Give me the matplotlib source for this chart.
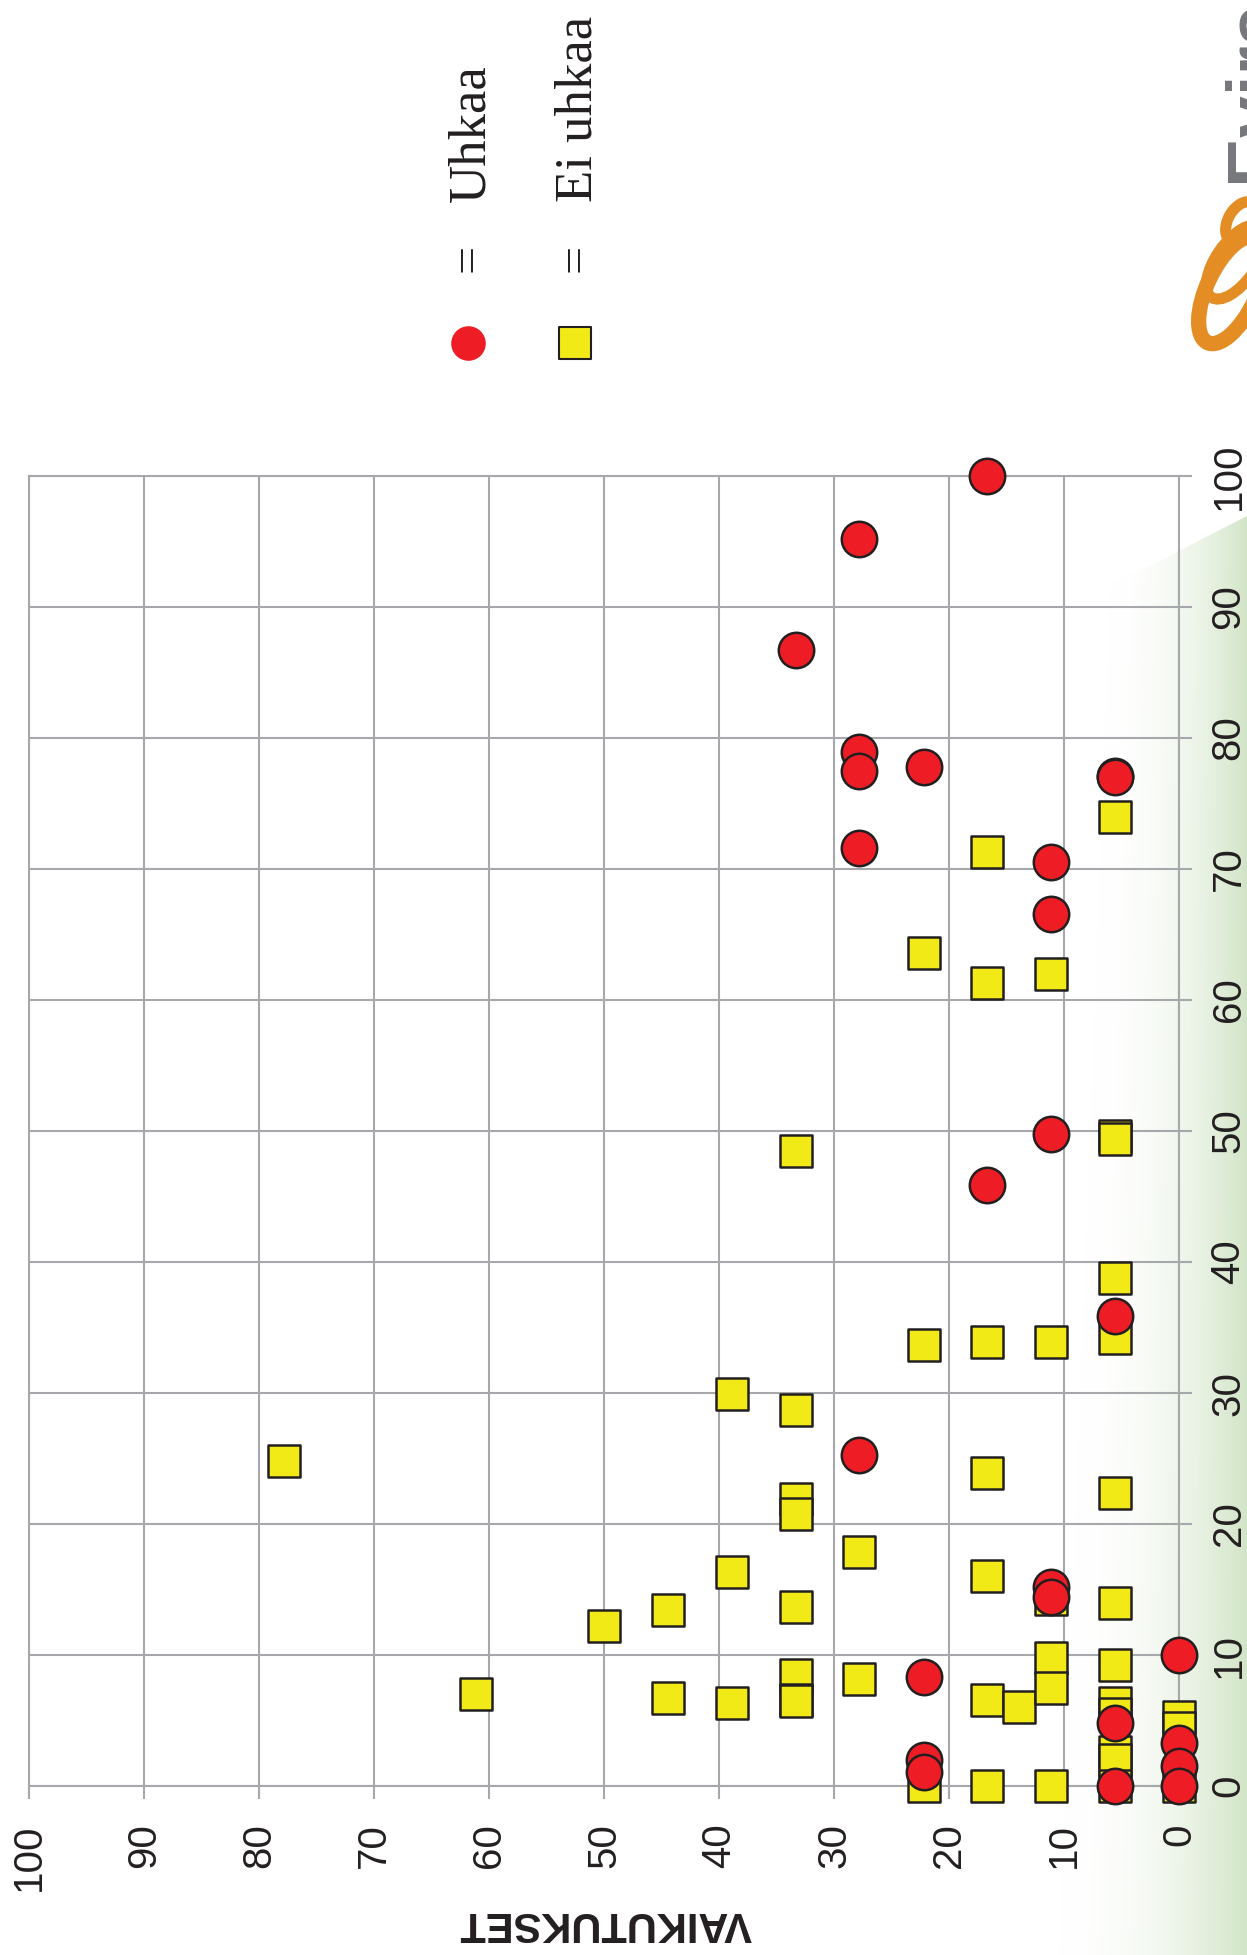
import numpy as np
import matplotlib
matplotlib.use("Agg")
from matplotlib import pyplot as plt
from matplotlib.patches import Polygon, Ellipse

# horizontal axis = VAIKUTUKSET (reversed, 100 on the left), vertical axis 0..100
uhkaa_h = [16.7, 27.8, 33.3, 27.8, 27.8, 22.2, 5.6, 5.6, 27.8, 11.1, 11.1, 11.1, 16.7,
           5.6, 27.8, 11.1, 11.1, 22.2, 0, 5.6, 0, 0, 22.2, 22.2, 5.6, 0]
uhkaa_v = [100, 95.2, 86.7, 78.9, 77.5, 77.8, 77.1, 77.0, 71.6, 70.5, 66.6, 49.8, 45.9,
           35.9, 25.3, 15.2, 14.4, 8.3, 10, 4.8, 3.3, 1.5, 2.0, 1.1, 0, 0]

ei_uhkaa_h = [77.8, 61.1, 50, 44.4, 44.4, 38.9, 38.9, 38.9, 33.3, 33.3, 33.3, 33.3, 33.3,
              33.3, 33.3, 33.3, 27.8, 27.8, 22.2, 22.2, 22.2, 16.7, 16.7, 16.7, 16.7,
              16.7, 16.7, 16.7, 13.9, 11.1, 11.1, 11.1, 11.1, 11.1, 11.1, 5.6, 5.6,
              5.6, 5.6, 5.6, 5.6, 5.6, 5.6, 5.6, 5.6, 5.6, 5.6, 5.6, 0, 0, 0]
ei_uhkaa_v = [24.8, 7.0, 12.2, 13.4, 6.7, 29.9, 16.3, 6.3, 48.5, 28.7, 21.9, 20.8, 13.7,
              8.5, 6.6, 6.5, 17.9, 8.2, 63.6, 33.7, 0, 71.3, 61.3, 33.9, 23.9,
              16.0, 6.6, 0, 6.0, 62.0, 33.9, 14.3, 9.8, 7.5, 0, 74.0, 49.6,
              49.4, 38.8, 34.2, 22.4, 14.0, 9.2, 6.3, 5.5, 2.6, 2.0, 0, 5.3, 4.4, 0]

tick_vals = list(range(0, 101, 10))
tick_labels = [str(t) for t in tick_vals]
x_label = "VAIKUTUKSET"
legend_labels = ["Uhkaa", "Ei uhkaa"]

RED = "#ee1d25"
YELLOW = "#f2ea17"
EDGE = "#231f20"
GRID = "#a6a8ab"

W, H = 1247, 1955
fig = plt.figure(figsize=(W / 100, H / 100), dpi=100)

# background layer in pixel coordinates (gradient, legend, logo)
bg = fig.add_axes([0, 0, 1, 1], zorder=0)
bg.set_xlim(0, W)
bg.set_ylim(H, 0)
bg.axis("off")

# green fade along the right edge, a bit wider towards the bottom
gx, gy = np.meshgrid(np.arange(W), np.arange(H))
x0 = 1100 - 60 * (gy - 500).clip(0) / (H - 500)
alpha = np.clip((gx - x0) / (W - x0), 0, 1) ** 2.3
grad = np.zeros((H, W, 4))
grad[..., 0] = 0.82
grad[..., 1] = 0.895
grad[..., 2] = 0.78
grad[..., 3] = alpha
im = bg.imshow(grad, extent=(0, W, H, 0), aspect="auto", interpolation="bilinear")
clip = Polygon([(1247, 516), (1200, 540), (1150, 566), (1100, 588), (1040, 610),
                (980, 628), (980, 1955), (1247, 1955)], closed=True,
               transform=bg.transData, facecolor="none", edgecolor="none")
bg.add_patch(clip)
im.set_clip_path(clip)

# legend
bg.scatter([468], [343], s=620, marker="o", facecolor=RED, edgecolor=RED, linewidth=0)
bg.scatter([575], [343], s=560, marker="s", facecolor=YELLOW, edgecolor=EDGE, linewidth=1.5)
for xp, lab in zip([469, 576], legend_labels):
    bg.text(xp, 258, "=", rotation=90, fontsize=36, family="Liberation Serif",
            ha="center", va="center", color=EDGE)
    bg.text(xp + 2, 202, lab, rotation=90, fontsize=38, family="Liberation Serif",
            ha="center", va="bottom", color=EDGE)

# logo (partly cut off at the right edge)
bg.text(1221, 182, "Evira", rotation=90, fontsize=54, fontweight="bold",
        family="Liberation Sans", color="#76777a", ha="left", va="bottom")
ORANGE = "#e38d24"
bg.add_patch(Ellipse((1242, 222), 44, 28, angle=-60, facecolor="none",
                     edgecolor=ORANGE, linewidth=8))
bg.add_patch(Ellipse((1236, 262), 86, 40, angle=-55, facecolor="none",
                     edgecolor=ORANGE, linewidth=8))
bg.add_patch(Ellipse((1232, 290), 116, 50, angle=-65, facecolor="none",
                     edgecolor=ORANGE, linewidth=11))

# main chart
ax = fig.add_axes([29 / W, 1 - 1786 / H, 1150 / W, 1310 / H], zorder=1)
ax.set_facecolor("none")
ax.set_xlim(100, 0)
ax.set_ylim(0, 100)
ax.grid(True, color=GRID, linewidth=1.5)
ax.set_axisbelow(True)
for sp in ax.spines.values():
    sp.set_color(GRID)
    sp.set_linewidth(1.5)

ax.yaxis.tick_right()
ax.set_xticks(tick_vals, labels=tick_labels, rotation=90, va="top", ha="center",
              fontsize=29, family="Liberation Sans", color=EDGE)
ax.set_yticks(tick_vals, labels=tick_labels, rotation=90, va="center", ha="left",
              fontsize=29, family="Liberation Sans", color=EDGE)
ax.tick_params(axis="x", length=9, width=1.5, color=GRID, pad=18)
ax.tick_params(axis="y", length=9, width=1.5, color=GRID, pad=13)

ax.scatter(ei_uhkaa_h, ei_uhkaa_v, s=560, marker="s", facecolor=YELLOW,
           edgecolor=EDGE, linewidth=1.8, clip_on=False, zorder=3)
ax.scatter(uhkaa_h, uhkaa_v, s=650, marker="o", facecolor=RED,
           edgecolor=EDGE, linewidth=1.8, clip_on=False, zorder=4)

fig.text(605 / W, 1 - 1923 / H, x_label, rotation=180, fontsize=30,
         fontweight="bold", family="Liberation Sans", color=EDGE,
         ha="center", va="center")

fig.savefig("out.png", dpi=100)
